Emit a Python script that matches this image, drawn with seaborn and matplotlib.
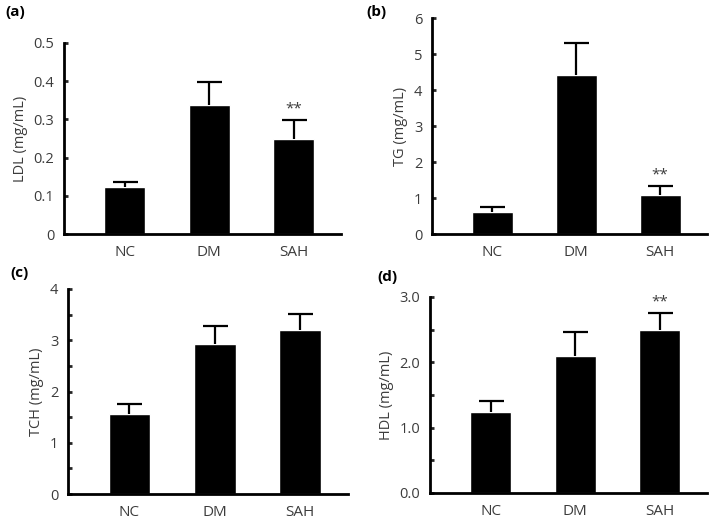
import numpy as np
import pandas as pd
import matplotlib
matplotlib.use("Agg")
import matplotlib.pyplot as plt
import seaborn as sns
from matplotlib.ticker import MultipleLocator

sns.set_style("ticks")
plt.rcParams['font.family'] = ['Open Sans', 'DejaVu Sans']

groups = ['NC', 'DM', 'SAH']

ldl = [0.123, 0.338, 0.250]
ldl_err = [0.014, 0.059, 0.048]
tg = [0.61, 4.43, 1.08]
tg_err = [0.13, 0.88, 0.24]
tch = [1.57, 2.92, 3.20]
tch_err = [0.19, 0.36, 0.32]
hdl = [1.24, 2.10, 2.50]
hdl_err = [0.17, 0.37, 0.26]

stars = [['', '', '**'], ['', '', '**'], ['', '', ''], ['', '', '**']]

W, H = 709, 519
# axes boxes in pixels: left, right, top, bottom
boxes = [(64, 341, 43, 234), (432, 707, 18, 234),
         (68, 348, 289, 494), (430, 707, 297, 493)]
panels = [
    ('(a)', 'LDL (mg/mL)', ldl, ldl_err, 0.5, 0.1, None, '{:.1f}', (5, 12)),
    ('(b)', 'TG (mg/mL)', tg, tg_err, 6, 1, None, '{:.0f}', (366, 12)),
    ('(c)', 'TCH (mg/mL)', tch, tch_err, 4, 1, 0.5, '{:.0f}', (10, 273)),
    ('(d)', 'HDL (mg/mL)', hdl, hdl_err, 3.0, 1.0, 0.5, '{:.1f}', (377, 277)),
]

txt = '#3c3c3c'
fig = plt.figure(figsize=(W / 100, H / 100), dpi=100)

for i, (tag, ylab, vals, errs, ymax, step, minor, fmt, tpos) in enumerate(panels):
    l, r, t, b = boxes[i]
    ax = fig.add_axes([l / W, 1 - b / H, (r - l) / W, (b - t) / H])
    df = pd.DataFrame({'group': groups, 'value': vals})
    sns.barplot(data=df, x='group', y='value', color='black', width=0.49,
                errorbar=None, ax=ax, saturation=1)
    eb = ax.errorbar(range(3), vals, yerr=[[0, 0, 0], errs], fmt='none',
                     ecolor='black', elinewidth=1.6, capsize=9, capthick=1.6)
    # hide the lower caps, only the upper half of each error bar is shown
    eb[1][0].set_visible(False)
    for j, s in enumerate(stars[i]):
        if s:
            ax.annotate(s, (j, vals[j] + errs[j]), xytext=(0, 8),
                        textcoords='offset points', ha='center', va='center',
                        fontsize=11, color=txt)
    ax.set_xlim(-0.72, 2.56)
    ax.set_ylim(0, ymax)
    ticks = np.arange(0, ymax + step / 2, step)
    ax.set_yticks(ticks)
    labels = [fmt.format(v) for v in ticks]
    if fmt == '{:.1f}' and ymax < 1:
        labels[0] = '0'
    ax.set_yticklabels(labels)
    if minor:
        ax.yaxis.set_minor_locator(MultipleLocator(minor))
    ax.tick_params(axis='y', which='both', direction='in', length=3, width=2,
                   labelsize=10.5, labelcolor=txt, pad=7)
    ax.tick_params(axis='x', length=0, labelsize=11, labelcolor=txt, pad=8)
    ax.set_xlabel('')
    ax.set_ylabel(ylab, fontsize=10.5, color=txt, labelpad=4)
    sns.despine(ax=ax)
    for sp in ['left', 'bottom']:
        ax.spines[sp].set_linewidth(2)
        ax.spines[sp].set_color('black')
    fig.text(tpos[0] / W, 1 - tpos[1] / H, tag, fontsize=11,
             fontweight='bold', va='center', ha='left', color='black')

fig.savefig('out.png', dpi=100)
